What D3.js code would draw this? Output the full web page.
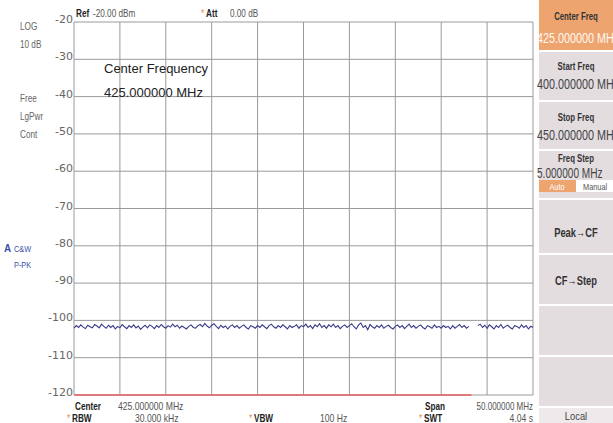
<!DOCTYPE html>
<html><head><meta charset="utf-8">
<script src="https://cdn.jsdelivr.net/npm/d3@7"></script>
<style>
html,body{margin:0;padding:0;background:#fff;}
svg{display:block;}
text{font-family:"Liberation Sans",Arial,sans-serif;}
</style></head>
<body>
<svg id="c" width="613" height="423"></svg>
<script>
// ---- data ----
const freqStart = 400, freqStop = 450;            // MHz
const refLevel = -20, bottomLevel = -120;          // dBm
const yTicks = [-20,-30,-40,-50,-60,-70,-80,-90,-100,-110,-120];
const traceDb = [
-102.1,-101.4,-101.9,-101.2,-101.8,-102.2,-101.3,-101.7,-102.0,-101.1,
-101.5,-102.0,-101.0,-101.6,-102.1,-101.3,-101.9,-101.4,-102.3,-101.6,
-102.0,-101.1,-101.7,-102.2,-101.4,-101.9,-101.2,-102.0,-101.5,-102.4,
-101.8,-101.3,-102.0,-101.2,-101.6,-102.2,-101.4,-101.9,-101.1,-101.7,
-102.1,-101.4,-101.8,-101.0,-101.7,-101.3,-102.1,-101.5,-101.9,-102.3,
-101.6,-101.2,-101.9,-102.1,-101.4,-101.1,-101.7,-100.8,-101.5,-102.0,
-101.3,-100.9,-101.6,-102.2,-101.3,-101.9,-101.5,-102.3,-101.6,-101.2,
-101.9,-101.4,-102.1,-101.6,-101.2,-101.9,-102.3,-101.4,-101.7,-102.1,
-101.4,-101.9,-101.2,-101.7,-102.2,-101.4,-101.0,-101.7,-102.1,-101.4,
-101.9,-101.2,-101.7,-102.3,-101.4,-101.9,-101.6,-101.2,-102.1,-101.4,
-101.7,-101.0,-101.9,-101.4,-102.2,-101.2,-101.7,-100.9,-101.9,-101.4,
-102.1,-101.2,-101.7,-101.0,-101.9,-101.4,-102.2,-101.6,-101.2,-101.9,
-101.4,-100.9,-101.7,-102.3,-101.2,-100.7,-101.9,-101.4,-102.5,-101.1,
-101.7,-102.1,-101.4,-101.9,-101.2,-102.1,-101.6,-101.3,-101.9,-102.3,
-101.6,-101.2,-101.9,-101.4,-102.2,-101.6,-101.0,-101.9,-101.4,-102.1,
-101.6,-101.2,-101.9,-102.3,-101.4,-101.7,-102.1,-101.2,-101.9,-101.6,
-102.1,-101.4,-101.9,-101.6,-102.3,-101.4,-102.1,-101.6,-101.1,-101.9,
-101.4,-102.1,-101.6,null,null,null,-101.4,-101.0,-101.9,-101.3,
-102.1,-101.2,-101.7,-102.3,-101.4,-101.9,-101.1,-102.1,-101.6,-101.3,
-101.9,-102.3,-101.4,-101.6,-102.1,-101.2,-101.9,-101.4,-102.3,-101.6,-101.8
];
const sweepEndMHz = 443.3;   // red sweep-progress bar end
const leftLabels = ["LOG","10 dB","Free","LgPwr","Cont"];
const softkeys = [
  {title:"Center Freq", value:"425.000000 MHz", active:true},
  {title:"Start Freq", value:"400.000000 MHz"},
  {title:"Stop Freq", value:"450.000000 MHz"},
  {title:"Freq Step", value:"5.000000 MHz"}
];
const softkeys2 = ["Peak\u2192CF","CF\u2192Step","",""];

// ---- layout ----
const svg = d3.select("#c");
const X0 = 74, X1 = 533, Y0 = 22, Y1 = 395;
const x = d3.scaleLinear().domain([freqStart,freqStop]).range([X0,X1]);
const y = d3.scaleLinear().domain([refLevel,bottomLevel]).range([Y0,Y1]);

svg.append("rect").attr("width",613).attr("height",423).attr("fill","#fff");

// condensed text helper
function ct(parent,xp,yp,t,o){
  o=o||{};
  return parent.append("text")
    .attr("transform",`translate(${xp},${yp}) scale(${o.sx||0.82},1)`)
    .text(t).attr("text-anchor",o.anchor||"start")
    .style("font-size",(o.size||10)+"px").style("font-weight",o.bold?"bold":"normal")
    .attr("fill",o.fill||"#555");
}

// grid
const g = svg.append("g");
const xGrid = d3.range(0,11).map(i=>freqStart+i*(freqStop-freqStart)/10);
g.selectAll("line.v").data(xGrid).join("line")
  .attr("x1",d=>x(d)).attr("x2",d=>x(d)).attr("y1",Y0).attr("y2",Y1)
  .attr("stroke","#9a9a9a").attr("stroke-width",1);
g.selectAll("line.h").data(yTicks).join("line")
  .attr("x1",X0).attr("x2",X1).attr("y1",d=>y(d)).attr("y2",d=>y(d))
  .attr("stroke","#9a9a9a").attr("stroke-width",1);

// y axis labels
const yAxis = d3.axisLeft(y).tickValues(yTicks).tickSize(0).tickPadding(1).tickFormat(d=>String(d));
const ya = svg.append("g").attr("transform",`translate(${X0},0)`).call(yAxis);
ya.select(".domain").remove();
ya.selectAll("text").attr("dy","0.05em").attr("fill","#666")
  .style("font-family","'DejaVu Sans',sans-serif").style("font-size","11px");

// sweep bar
svg.append("line").attr("x1",x(freqStart)).attr("x2",x(sweepEndMHz))
  .attr("y1",y(bottomLevel)).attr("y2",y(bottomLevel))
  .attr("stroke","#e07a7a").attr("stroke-width",2.2);

// trace
const pts = traceDb.map((v,i)=>({f:freqStart+i*(freqStop-freqStart)/(traceDb.length-1), v}));
const line = d3.line().defined(d=>d.v!==null).x(d=>x(d.f)).y(d=>y(d.v));
svg.append("path").datum(pts).attr("d",line).attr("fill","none")
  .attr("stroke","#3a3a88").attr("stroke-width",1.1);

// center frequency annotation
svg.append("text").attr("x",104).attr("y",73).text("Center Frequency")
  .style("font-size","13px").attr("fill","#222");
svg.append("text").attr("x",104).attr("y",97).text("425.000000 MHz")
  .style("font-size","13px").attr("fill","#222");

// left labels
const ly = [30,48,102,120,138];
leftLabels.forEach((t,i)=>ct(svg,20,ly[i],t,{size:10,fill:"#666"}));
ct(svg,4,252,"A",{size:11,bold:true,fill:"#3a50a8",sx:0.9});
ct(svg,14,252,"C&W",{size:9,fill:"#3a50a8"});
ct(svg,14,268,"P-PK",{size:9,fill:"#3a50a8"});

// top info
ct(svg,76,17,"Ref",{bold:true,fill:"#222"});
ct(svg,93,17,"-20.00 dBm",{});
ct(svg,201,17,"*",{fill:"#e8894a"});
ct(svg,206,17,"Att",{bold:true,fill:"#222"});
ct(svg,230,17,"0.00 dB",{});

// bottom info
ct(svg,75,410,"Center",{bold:true,fill:"#222"});
ct(svg,118,410,"425.000000 MHz",{sx:0.86});
ct(svg,425,410,"Span",{bold:true,fill:"#222"});
ct(svg,533,410,"50.000000 MHz",{anchor:"end",sx:0.8});
function starred(xp,yp,t){
  ct(svg,xp,yp,"*",{fill:"#e8894a"});
  ct(svg,xp+5,yp,t,{bold:true,fill:"#222"});
}
starred(67,422,"RBW");
ct(svg,135,422,"30.000 kHz",{sx:0.86});
starred(249,422,"VBW");
ct(svg,320,422,"100 Hz",{sx:0.86});
starred(419,422,"SWT");
ct(svg,533,422,"4.04 s",{anchor:"end",sx:0.86});

// softkey panel
const P0 = 539;
const panel = svg.append("g");
const keyBoxes = [[0,50],[52,100],[102,149],[151,180]];
const titleOff = [20,18,19,11], valueOff = [43,37,38,27], valueSize = [15,15,15,14];
softkeys.forEach((k,i)=>{
  const [a,b] = keyBoxes[i];
  panel.append("rect").attr("x",P0).attr("y",a).attr("width",613-P0).attr("height",b-a)
    .attr("fill",k.active?"#eea46f":"#e3dde0");
  ct(panel,576,a+titleOff[i],k.title,{anchor:"middle",bold:true,size:10,fill:"#333",sx:0.78});
  ct(panel,P0-2,a+valueOff[i],k.value,{size:valueSize[i],fill:k.active?"#fff8f0":"#444",sx:0.72});
});
// Auto / Manual
panel.append("rect").attr("x",P0).attr("y",180).attr("width",613-P0).attr("height",12).attr("fill","#fff");
panel.append("rect").attr("x",P0).attr("y",180).attr("width",37).attr("height",12).attr("fill","#eea46f");
ct(panel,557,190,"Auto",{anchor:"middle",size:9,fill:"#fff"});
ct(panel,583,190,"Manual",{size:9,fill:"#555"});
panel.append("rect").attr("x",P0).attr("y",192).attr("width",613-P0).attr("height",6).attr("fill","#e3dde0");

const key2 = [[200,253],[255,304],[306,355],[357,406]];
softkeys2.forEach((t,i)=>{
  const [a,b]=key2[i];
  panel.append("rect").attr("x",P0).attr("y",a).attr("width",613-P0).attr("height",b-a).attr("fill","#e3dde0");
  if(t) ct(panel,576,i==0?237:285,t,{anchor:"middle",size:13,bold:true,fill:"#333",sx:0.72});
});
panel.append("rect").attr("x",P0).attr("y",408).attr("width",613-P0).attr("height",15).attr("fill","#eeeaeb");
ct(panel,576,420,"Local",{anchor:"middle",size:11,fill:"#444",sx:0.85});
</script>
</body></html>
